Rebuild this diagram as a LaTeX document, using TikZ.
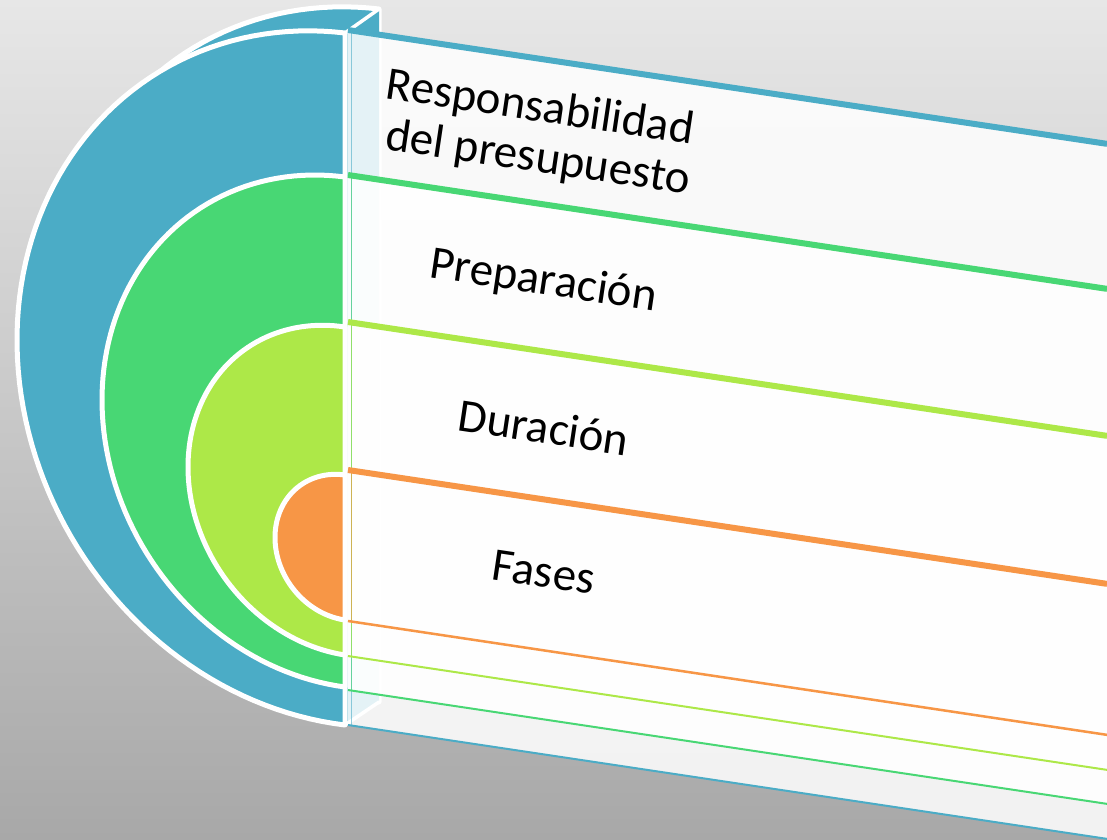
\documentclass[tikz,border=0pt]{standalone}
\usepackage{fontspec}
\setmainfont{Carlito}

\definecolor{ringblue}{HTML}{4BACC6}
\definecolor{ringgreen}{HTML}{48D774}
\definecolor{ringlime}{HTML}{ADE848}
\definecolor{ringorange}{HTML}{F79646}
\definecolor{bgtop}{HTML}{E7E7E7}
\definecolor{bgbottom}{HTML}{A8A8A8}

\begin{document}
\begin{tikzpicture}[x=1pt,y=1pt]
        \tikzstyle{every node}=[font=\fontsize{47}{50.4}\selectfont, text=black, inner sep=0pt]
        \tikzstyle{disc}=[draw=white, line width=5pt, line join=round]
        \tikzstyle{slab}=[fill=white, fill opacity=0.85]
        \tikzstyle{topedge}=[line width=6pt]
        \tikzstyle{lowedge}=[line width=2pt]

        \useasboundingbox (0,0) rectangle (1107,-839);
        \shade[top color=bgtop, bottom color=bgbottom] (0,0) rectangle (1107,-839);

        % back face of the outer ring
        \filldraw[disc, fill=ringblue] plot[domain=0:180, samples=90] ({379-328*sin(\x)}, {-355.5+346.5*cos(\x)+39*sin(\x)}) -- cycle;
        \fill[ringblue] (345,-33) -- (379,-9) -- (379,-702) -- (345,-725) -- cycle;
        \draw[white, line width=3.5pt, line cap=round] (345,-33) -- (379,-9);
        \draw[white, line width=3.5pt, line cap=round] (345,-725) -- (379,-702);

        % front rings
        \filldraw[disc, fill=ringblue]   plot[domain=0:180, samples=90] ({345-328*sin(\x)}, {-379+346*cos(\x)+39*sin(\x)}) -- cycle;
        \filldraw[disc, fill=ringgreen]  plot[domain=0:180, samples=90] ({345-243*sin(\x)}, {-432+255*cos(\x)+32*sin(\x)}) -- cycle;
        \filldraw[disc, fill=ringlime]   plot[domain=0:180, samples=90] ({345-157*sin(\x)}, {-491+164*cos(\x)+24*sin(\x)}) -- cycle;
        \filldraw[disc, fill=ringorange] plot[domain=0:180, samples=90] ({345-70*sin(\x)}, {-547.5+72.5*cos(\x)+10*sin(\x)}) -- cycle;

        \coordinate (bt) at (348,-30);  \coordinate (bb) at (348,-725);
        \coordinate (gt) at (348,-175); \coordinate (gb) at (348,-690);
        \coordinate (lt) at (348,-322); \coordinate (lb) at (348,-656);
        \coordinate (ot) at (348,-470); \coordinate (ob) at (348,-621);

        % slabs
        \fill[slab] (bt) -- ++(759,-113.85) -- ++(0,-695) -- (bb) -- cycle;
        \fill[slab] (gt) -- ++(759,-113.85) -- ++(0,-515) -- (gb) -- cycle;
        \fill[slab] (lt) -- ++(759,-113.85) -- ++(0,-334) -- (lb) -- cycle;
        \fill[slab] (ot) -- ++(759,-113.85) -- ++(0,-151) -- (ob) -- cycle;

        \draw[ringblue, line width=1pt, opacity=0.6]   ([xshift=3pt]bt) -- ([xshift=3pt]bb);
        \draw[ringgreen, line width=1pt, opacity=0.6]  ([xshift=3pt]gt) -- ([xshift=3pt]gb);
        \draw[ringlime, line width=1pt, opacity=0.6]   ([xshift=3pt]lt) -- ([xshift=3pt]lb);
        \draw[ringorange, line width=1pt, opacity=0.6] ([xshift=3pt]ot) -- ([xshift=3pt]ob);

        \draw[topedge, ringblue]   (bt) -- ++(759,-113.85);
        \draw[topedge, ringgreen]  (gt) -- ++(759,-113.85);
        \draw[topedge, ringlime]   (lt) -- ++(759,-113.85);
        \draw[topedge, ringorange] (ot) -- ++(759,-113.85);
        \draw[lowedge, ringblue]   (bb) -- ++(759,-113.85);
        \draw[lowedge, ringgreen]  (gb) -- ++(759,-113.85);
        \draw[lowedge, ringlime]   (lb) -- ++(759,-113.85);
        \draw[lowedge, ringorange, line width=2.5pt] (ob) -- ++(759,-113.85);

        \node[rotate=-8.5, align=left] (resp) at (538,-134) {Responsabilidad\\\hspace*{7pt}del presupuesto};
        \node[rotate=-8.5, anchor=base] (prep) at (541.5,-294) {Preparación};
        \node[rotate=-8.5, anchor=base] (dura) at (541.5,-443) {Duración};
        \node[rotate=-8.5, anchor=base] (fase) at (541.5,-587) {Fases};
\end{tikzpicture}
\end{document}
